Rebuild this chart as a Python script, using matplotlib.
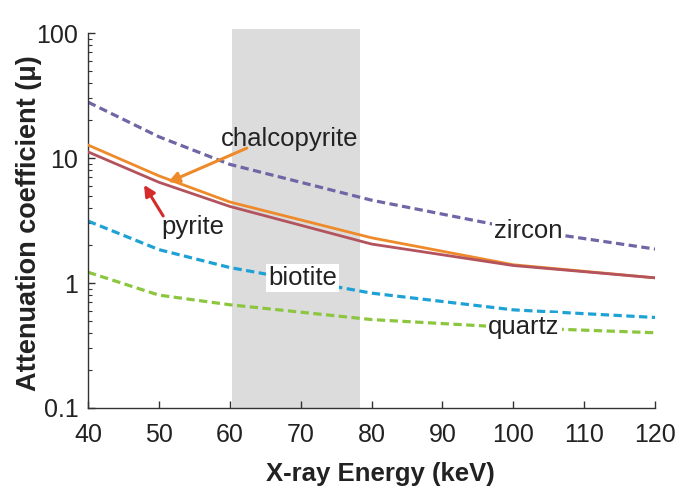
import matplotlib
matplotlib.use("Agg")
import matplotlib.pyplot as plt
from matplotlib.ticker import FixedLocator, LogLocator, NullFormatter

plt.rcParams['font.family'] = ['Liberation Sans', 'DejaVu Sans']

# photon energies (keV) and attenuation coefficients per mineral
energy = [40, 50, 60, 80, 100, 120]
zircon = [28.0, 14.8, 8.9, 4.6, 2.75, 1.87]
chalcopyrite = [12.7, 7.2, 4.45, 2.3, 1.40, 1.10]
pyrite = [11.2, 6.4, 4.1, 2.05, 1.38, 1.10]
biotite = [3.13, 1.85, 1.33, 0.83, 0.61, 0.53]
quartz = [1.22, 0.80, 0.67, 0.51, 0.44, 0.40]

window = (60.3, 78.4)
yticks = [0.1, 1, 10, 100]
ytick_labels = ["0.1", "1", "10", "100"]
xticks = [40, 50, 60, 70, 80, 90, 100, 110, 120]

fig = plt.figure(figsize=(6.84, 4.86), dpi=100)
ax = fig.add_axes([0.1287, 0.1605, 0.829, 0.7715])

ax.axvspan(window[0], window[1], ymin=0, ymax=1.012, color="#dcdcdc", lw=0, zorder=0, clip_on=False)

dash = (2.6, 1.4)
ax.plot(energy, zircon, color="#6f66a6", lw=2.3, dashes=dash, zorder=2)
ax.plot(energy, chalcopyrite, color="#ee8a2a", lw=2.0, zorder=3)
ax.plot(energy, pyrite, color="#b3535e", lw=2.0, zorder=3)
ax.plot(energy, biotite, color="#1ea2d6", lw=2.3, dashes=dash, zorder=2)
ax.plot(energy, quartz, color="#8cc63f", lw=2.3, dashes=dash, zorder=2)

ax.set_yscale("log")
ax.set_xlim(40, 120)
ax.set_ylim(0.1, 100)
ax.yaxis.set_major_locator(FixedLocator(yticks))
ax.set_yticklabels(ytick_labels)
ax.yaxis.set_minor_locator(LogLocator(base=10, subs=range(2, 10)))
ax.yaxis.set_minor_formatter(NullFormatter())
ax.set_xticks(xticks)

for s in ["top", "right"]:
    ax.spines[s].set_visible(False)
for s in ["left", "bottom"]:
    ax.spines[s].set_color("#333333")
    ax.spines[s].set_linewidth(1.0)

ax.tick_params(axis="both", which="major", direction="in", length=5, width=1,
               labelsize=18, colors="#333333", labelcolor="#222222")
ax.tick_params(axis="x", which="major", pad=11)
ax.tick_params(axis="y", which="major", pad=7)
ax.tick_params(axis="y", which="minor", direction="in", length=3, width=0.8, colors="#333333")

ax.set_xlabel("X-ray Energy (keV)", fontsize=18.5, fontweight="bold", color="#222222")
ax.set_ylabel("Attenuation coefficient (μ)", fontsize=19.5, fontweight="bold", color="#222222")
ax.xaxis.label.set_va("center")
ax.yaxis.label.set_va("center")
ax.xaxis.set_label_coords(0.515, -0.176)
ax.yaxis.set_label_coords(-0.104, 0.493)

box = dict(facecolor="white", edgecolor="none", pad=1.5)
lab = dict(fontsize=18.5, color="#222222", ha="center", va="center", zorder=5)
ax.text(68.5, 14.3, "chalcopyrite", **lab)
ax.text(54.8, 2.82, "pyrite", **lab)
ax.text(102.1, 2.6, "zircon", bbox=box, **lab)
ax.text(70.3, 1.1, "biotite", bbox=box, **lab)
ax.text(101.5, 0.443, "quartz", bbox=box, **lab)

ax.annotate("", xy=(51.3, 6.4), xytext=(62.4, 12.0),
            arrowprops=dict(arrowstyle="-|>", color="#ee8a2a", lw=2.2, mutation_scale=16,
                            shrinkA=0, shrinkB=0), zorder=4)
ax.annotate("", xy=(47.9, 6.1), xytext=(50.6, 3.44),
            arrowprops=dict(arrowstyle="-|>", color="#d42b2b", lw=2.2, mutation_scale=16,
                            shrinkA=0, shrinkB=0), zorder=4)

fig.savefig("out.png", dpi=100)
